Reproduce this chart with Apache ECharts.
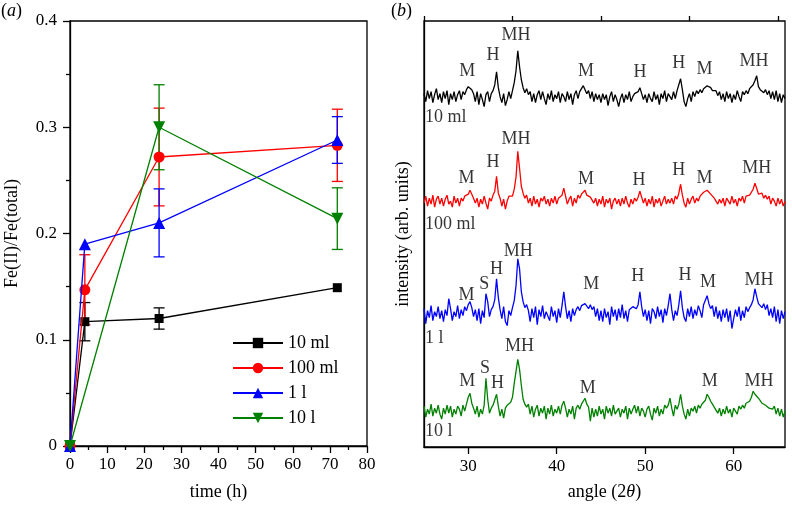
<!DOCTYPE html>
<html>
<head>
<meta charset="utf-8">
<script src="https://cdn.jsdelivr.net/npm/echarts@6/dist/echarts.min.js"></script>
<style>html,body{margin:0;padding:0;background:#fff}#c{width:792px;height:506px}</style>
</head>
<body>
<div id="c"></div>
<script>
// ---------- Panel (a) data ----------
const seriesNames = ['10 ml', '100 ml', '1 l', '10 l'];
const times10ml = [0, 4, 24, 72];
const vals10ml = [0, 0.117, 0.120, 0.149];
const err10ml = [0, 0.018, 0.010, 0];
const times100ml = [0, 4, 24, 72];
const vals100ml = [0, 0.147, 0.272, 0.283];
const err100ml = [0, 0.033, 0.046, 0.034];
const times1l = [0, 4, 24, 72];
const vals1l = [0, 0.190, 0.210, 0.288];
const err1l = [0, 0, 0.032, 0.022];
const times10l = [0, 24, 72];
const vals10l = [0, 0.300, 0.214];
const err10l = [0, 0.040, 0.029];
const timeTicks = [0, 10, 20, 30, 40, 50, 60, 70, 80];
const ratioTicks = [0, 0.1, 0.2, 0.3, 0.4];

// ---------- Panel (b) data: XRD patterns, 25.0 to 65.8 deg, step 0.2 ----------
const angleStart = 25, angleStep = 0.2;
const xrd10ml = [
  3,-5,6,-2,5,-6,2,8,-3,3,
  -6,5,-2,6,-8,3,-3,5,-5,2,
  6,-3,5,2,7,10,12,7,3,-5,
  5,-8,3,-3,-10,2,5,-5,3,6,
  12,25,9,0,-6,3,-9,-3,5,-2,
  6,14,26,46,30,17,9,4,8,2,
  5,-5,3,-6,2,6,-3,5,-2,-8,
  3,-3,6,-5,2,-2,5,-6,3,0,
  -5,5,-3,3,-8,2,6,-2,5,7,
  11,7,3,6,-2,5,-5,3,-3,2,
  -6,3,-3,2,-9,0,5,-5,2,-3,
  -10,-2,3,-6,2,-3,5,-5,0,3,
  2,5,9,3,-3,2,-6,3,-2,-5,
  5,-3,2,-8,3,-2,6,-5,3,2,
  -3,5,-2,6,7,18,7,-5,-10,-2,
  3,-5,5,0,6,3,7,4,8,9,
  11,12,9,6,4,6,1,5,-3,3,
  -5,5,-2,3,-6,2,-3,6,0,-5,
  5,2,6,3,8,9,12,16,21,10,
  7,8,4,7,2,6,-2,5,-3,6,
  -5,3,-6,2,-2
];
const xrd100ml = [
  -2,5,-5,3,-3,6,-6,2,5,-3,
  3,-5,2,6,-3,0,-6,5,-2,3,
  -5,3,0,5,5,7,11,9,3,-2,
  3,-6,2,-3,5,-2,-8,3,0,6,
  10,25,8,3,-5,2,-8,0,5,3,
  5,12,24,50,33,15,8,3,6,-2,
  3,-5,5,-3,2,-6,3,0,5,-3,
  2,-5,3,-2,5,-3,3,5,6,13,
  5,-3,2,5,-5,3,-2,6,3,7,
  9,11,6,7,4,6,-2,3,-5,2,
  -3,5,-6,2,-2,3,-8,0,3,-3,
  2,-5,3,-3,5,-2,-6,2,-3,3,
  0,4,10,4,-2,3,-5,2,-3,5,
  -6,2,-2,3,-5,0,5,-3,2,-2,
  3,-3,5,2,8,17,6,-2,-6,3,
  -3,2,5,-2,3,0,5,6,9,8,
  11,9,7,5,3,5,-3,2,-2,3,
  -5,3,0,-3,5,-2,2,-5,3,0,
  5,-2,5,3,6,8,12,18,13,7,
  6,8,3,6,2,5,-3,3,0,-5,
  3,-3,2,-5,0
];
const xrd1l = [
  5,-10,3,-4,8,-7,2,-3,7,-5,
  3,-8,4,-2,15,5,-7,2,-3,8,
  -5,4,-2,7,3,9,12,6,-3,4,
  -7,5,-10,3,-4,20,12,-3,4,7,
  14,35,16,4,-5,7,-8,-12,3,-2,
  6,13,28,55,45,22,12,6,9,3,
  -8,5,-4,7,-11,4,-3,8,-5,2,
  4,-7,7,-3,3,-9,5,-4,8,22,
  7,-5,3,-8,5,-2,4,7,3,8,
  6,10,8,5,9,4,7,-3,5,-7,
  3,-8,5,-4,2,-11,7,-3,4,-7,
  5,-4,9,-5,3,-8,4,2,7,9,
  5,9,22,7,-3,4,-7,3,-10,5,
  2,-5,7,-3,4,-9,5,-2,8,20,
  4,-7,3,-2,9,23,6,-4,-8,5,
  -3,7,-5,4,-2,8,3,-4,9,7,
  18,10,5,8,-3,7,-5,3,-8,4,
  -4,5,-8,3,-15,-5,4,-3,7,-7,
  3,-4,7,2,6,9,14,25,17,10,
  9,6,10,4,9,-2,5,-4,7,-8,
  4,-10,3,-5,2
];
const xrd10l = [
  5,-6,2,-3,7,-5,3,-2,6,-3,
  -8,3,-3,6,-2,5,-6,2,-3,5,
  2,-5,6,0,7,14,18,8,3,-3,
  5,-6,2,-3,6,33,12,-2,3,6,
  8,17,5,-5,2,-7,3,6,7,9,
  14,28,40,52,42,26,12,7,4,7,
  -3,5,-6,2,6,-5,3,-2,5,-8,
  3,-3,6,-5,2,-2,5,-3,6,10,
  3,-6,2,-3,5,-8,3,6,2,7,
  9,13,7,4,-10,3,-6,2,-5,5,
  -3,2,-8,5,-2,3,-5,6,-3,0,
  3,-6,2,-2,5,-8,3,-3,2,6,
  -2,5,-5,3,0,-6,2,5,-3,-9,
  3,-2,5,-5,2,-3,6,3,6,13,
  3,-5,6,2,7,17,5,-3,-8,2,
  -5,3,0,5,-2,6,3,7,9,11,
  17,14,10,7,4,6,-2,3,-5,2,
  -3,5,-2,2,-6,3,0,-3,5,2,
  6,3,8,6,10,14,20,17,19,13,
  11,8,10,6,7,3,5,2,5,-3,
  3,-5,2,-6,0
];
const angleTicks = [30, 40, 50, 60];
const angleMinorTicks = [25, 35, 45, 55, 65];
// peak labels: [text, angle, height above the trace baseline]
const peaks10ml = [['M',29.9,26],['H',32.8,42],['MH',35.4,62],['M',43.3,25],['H',49.4,24],['H',53.8,34],['M',56.7,28],['MH',62.3,36]];
const peaks100ml = [['M',29.8,23],['H',32.8,39],['MH',35.4,62],['M',43.3,22],['H',49.3,21],['H',53.8,31],['M',56.7,23],['MH',62.6,33]];
const peaks1l = [['M',29.8,18],['S',31.8,29],['H',33.2,45],['MH',35.65,63],['M',43.9,29],['H',49.15,38],['H',54.5,39],['M',57.1,32],['MH',62.85,34]];
const peaks10l = [['M',29.9,30],['S',31.9,43],['H',33.3,28],['MH',35.8,65],['M',43.5,23],['M',57.3,30],['MH',62.85,30]];
const sampleLabelLevel = [-21, -23, -25, -20];

// ---------- layout / style ----------
const colors = ['#000000', '#ff0000', '#0000ff', '#008000'];
const traceBase = [352, 247, 134, 36];
const FONT = "'Liberation Serif', 'Times New Roman', serif";

const chart = echarts.init(document.getElementById('c'), null, {renderer: 'canvas'});

function pairs(ts, vs) { return ts.map((t, i) => [t, vs[i]]); }
function errs(ts, vs, es) { return ts.map((t, i) => [t, vs[i] - es[i], vs[i] + es[i]]); }
function errRender(color) {
  return function (params, api) {
    const x = api.value(0), lo = api.value(1), hi = api.value(2);
    if (!(hi - lo > 0)) return null;
    const a = api.coord([x, hi]), b = api.coord([x, lo]);
    const w = 5.5;
    const st = {stroke: color, lineWidth: 1.3};
    return {type: 'group', children: [
      {type: 'line', shape: {x1: a[0], y1: a[1], x2: b[0], y2: b[1]}, style: st},
      {type: 'line', shape: {x1: a[0] - w, y1: a[1], x2: a[0] + w, y2: a[1]}, style: st},
      {type: 'line', shape: {x1: b[0] - w, y1: b[1], x2: b[0] + w, y2: b[1]}, style: st}
    ]};
  };
}
function trace(arr, base) {
  return arr.map((v, i) => [+(angleStart + i * angleStep).toFixed(1), v + base]);
}
function peakData(list, base) {
  return list.map(p => ({name: p[0], value: [p[1], base + p[2]]}));
}

const timesA = [times10ml, times100ml, times1l, times10l];
const valsA = [vals10ml, vals100ml, vals1l, vals10l];
const errsA = [err10ml, err100ml, err1l, err10l];
const symbols = ['rect', 'circle', 'triangle', 'triangle'];
const symSizes = [9, 11, 12, 12];
const symRot = [0, 0, 0, 180];
const xrdAll = [xrd10ml, xrd100ml, xrd1l, xrd10l];
const peaksAll = [peaks10ml, peaks100ml, peaks1l, peaks10l];

const series = [];
for (let k = 0; k < 4; k++) {
  series.push({
    type: 'custom', name: seriesNames[k] + ' err', xAxisIndex: 0, yAxisIndex: 0,
    data: errs(timesA[k], valsA[k], errsA[k]), renderItem: errRender(colors[k]),
    z: 2, silent: true, encode: {x: 0, y: [1, 2]}
  });
}
for (let k = 0; k < 4; k++) {
  series.push({
    type: 'line', name: seriesNames[k], xAxisIndex: 0, yAxisIndex: 0,
    data: pairs(timesA[k], valsA[k]),
    symbol: symbols[k], symbolSize: symSizes[k], symbolRotate: symRot[k],
    showSymbol: true, showAllSymbol: true, clip: false,
    lineStyle: {color: colors[k], width: 1.3},
    itemStyle: {color: colors[k]},
    z: 3 + k, silent: true
  });
}
for (let k = 0; k < 4; k++) {
  series.push({
    type: 'line', name: 'xrd' + k, xAxisIndex: 1, yAxisIndex: 1,
    data: trace(xrdAll[k], traceBase[k]), showSymbol: false, symbol: 'none',
    lineStyle: {color: colors[k], width: 1.3}, silent: true, z: 2
  });
  series.push({
    type: 'scatter', name: 'peaks' + k, xAxisIndex: 1, yAxisIndex: 1,
    data: peakData(peaksAll[k], traceBase[k]), symbolSize: 0, silent: true, z: 5,
    label: {show: true, position: 'inside', formatter: '{b}', color: '#000',
      fontFamily: FONT, fontSize: 18, align: 'center', verticalAlign: 'middle'}
  });
  series.push({
    type: 'scatter', name: 'sample' + k, xAxisIndex: 1, yAxisIndex: 1,
    data: [{name: seriesNames[k], value: [25.1, traceBase[k] + sampleLabelLevel[k]]}],
    symbolSize: 0, silent: true, z: 5,
    label: {show: true, position: 'inside', formatter: '{b}', color: '#000',
      fontFamily: FONT, fontSize: 18, align: 'left', verticalAlign: 'middle'}
  });
}

const axisLineStyle = {lineStyle: {color: '#000', width: 1.3}};
const nameText = {color: '#000', fontFamily: FONT, fontSize: 18};
function tickText(extra) {
  return Object.assign({color: '#000', fontFamily: FONT, fontSize: 17,
    textStyle: {fontFamily: FONT, fontSize: 17, color: '#000'}}, extra);
}

const option = {
  animation: false,
  backgroundColor: '#fff',
  textStyle: {fontFamily: FONT, color: '#000'},
  grid: [
    {left: 70, top: 21, width: 297, height: 427, show: true, borderColor: '#000', borderWidth: 1.3, backgroundColor: 'transparent'},
    {left: 424, top: 21, width: 361, height: 428, show: true, borderColor: '#000', borderWidth: 1.3, backgroundColor: 'transparent'}
  ],
  legend: {
    data: seriesNames.map(n => ({name: n, textStyle: {fontFamily: FONT, fontSize: 18, color: '#000'}})),
    orient: 'vertical', left: 232, top: 334, padding: 0,
    itemWidth: 50, itemHeight: 13, itemGap: 7,
    textStyle: {color: '#000', fontFamily: FONT, fontSize: 18},
    selectedMode: false
  },
  xAxis: [
    {gridIndex: 0, type: 'value', min: timeTicks[0], max: timeTicks[timeTicks.length - 1], interval: 10,
      axisLine: axisLineStyle, axisTick: {show: true, length: 7, lineStyle: {color: '#000', width: 1.3}},
      minorTick: {show: true, splitNumber: 2, length: 4, lineStyle: {color: '#000', width: 1.3}},
      splitLine: {show: false}, axisLabel: tickText({margin: 10}),
      name: 'time (h)', nameLocation: 'middle', nameGap: 37, nameTextStyle: nameText},
    {gridIndex: 1, type: 'value', min: angleStart, max: 65.8,
      axisLine: axisLineStyle,
      axisTick: {show: true, length: 7, customValues: angleTicks, lineStyle: {color: '#000', width: 1.3}},
      axisLabel: tickText({margin: 11, customValues: angleTicks}),
      splitLine: {show: false},
      name: 'angle (2{i|θ})', nameLocation: 'middle', nameGap: 36,
      nameTextStyle: Object.assign({rich: {i: {fontStyle: 'italic', fontFamily: FONT, fontSize: 18, color: '#000'}}}, nameText)},
    {gridIndex: 1, type: 'value', min: angleStart, max: 65.8,
      axisLine: {show: false}, axisLabel: {show: false}, splitLine: {show: false},
      axisTick: {show: true, length: 5, customValues: angleMinorTicks, lineStyle: {color: '#000', width: 1.3}}}
  ],
  yAxis: [
    {gridIndex: 0, type: 'value', min: ratioTicks[0], max: ratioTicks[ratioTicks.length - 1], interval: 0.1,
      axisLine: axisLineStyle, axisTick: {show: true, length: 7, lineStyle: {color: '#000', width: 1.3}},
      minorTick: {show: true, splitNumber: 2, length: 4, lineStyle: {color: '#000', width: 1.3}},
      splitLine: {show: false}, axisLabel: tickText({margin: 13}),
      name: 'Fe(II)/Fe(total)', nameLocation: 'middle', nameGap: 49, nameTextStyle: nameText},
    {gridIndex: 1, type: 'value', min: 0, max: 428,
      axisLine: axisLineStyle, axisTick: {show: false}, axisLabel: {show: false}, splitLine: {show: false},
      name: 'intensity (arb. units)', nameLocation: 'middle', nameGap: 12, nameTextStyle: nameText}
  ],
  graphic: [
    {type: 'text', left: 1, top: 2, style: {text: '({i|a})', fontFamily: FONT, fontSize: 18, fill: '#000',
      rich: {i: {fontStyle: 'italic', fontFamily: FONT, fontSize: 18, fill: '#000'}}}},
    {type: 'text', left: 391, top: 2, style: {text: '({i|b})', fontFamily: FONT, fontSize: 18, fill: '#000',
      rich: {i: {fontStyle: 'italic', fontFamily: FONT, fontSize: 18, fill: '#000'}}}}
  ],
  series: series
};
chart.setOption(option);
</script>
</body>
</html>
